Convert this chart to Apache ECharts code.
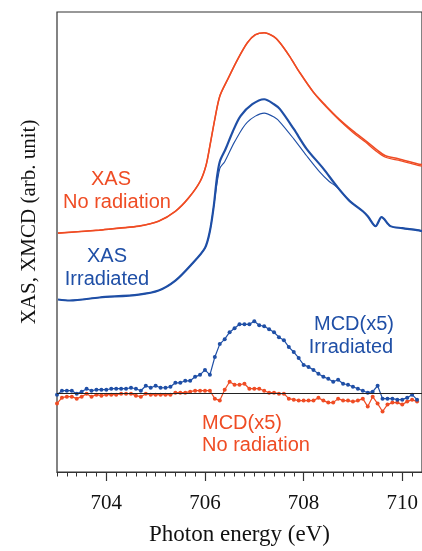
<!DOCTYPE html>
<html>
<head>
<meta charset="utf-8">
<script src="https://cdn.jsdelivr.net/npm/echarts@6/dist/echarts.min.js"></script>
<style>
  html, body { margin: 0; padding: 0; background: #fff; }
  #chart { width: 422px; height: 551px; }
</style>
</head>
<body>
<div id="chart"></div>
<script>
// x tick labels (eV)
const majorTicks = [704, 706, 708, 710]

// XAS spectra, [energy (eV), intensity (arb.)]
const xasNoRad = [
    [703.02, 16.2], [703.86, 16.5], [704.26, 16.7], [704.66, 16.9], [705.06, 17.4], [705.40, 18.4],
    [705.66, 19.7], [705.90, 21.4], [706.02, 23.0], [706.10, 25.0], [706.20, 27.7], [706.30, 30.0],
    [706.46, 31.7], [706.66, 33.7], [706.86, 35.4], [707.02, 36.2], [707.20, 36.4], [707.40, 36.0],
    [707.52, 35.4], [707.72, 34.0], [707.92, 32.4], [708.20, 30.4], [708.46, 29.0], [708.72, 27.7],
    [709.00, 26.5], [709.26, 25.5], [709.46, 24.7], [709.66, 24.0], [709.92, 23.7], [710.30, 23.2], [710.40, 23.1],
]
const xasNoRad2 = [
    [703.02, 16.2], [703.86, 16.5], [704.26, 16.7], [704.66, 16.9], [705.06, 17.4], [705.40, 18.4],
    [705.66, 19.7], [705.90, 21.4], [706.02, 23.0], [706.10, 25.0], [706.20, 27.7], [706.30, 30.0],
    [706.46, 31.7], [706.66, 33.7], [706.86, 35.4], [707.02, 36.2], [707.20, 36.4], [707.40, 36.0],
    [707.52, 35.4], [707.72, 34.0], [707.92, 32.4], [708.20, 30.4], [708.46, 28.9], [708.72, 27.6],
    [709.00, 26.35], [709.26, 25.35], [709.46, 24.5], [709.66, 23.85], [709.92, 23.55], [710.30, 23.05], [710.40, 22.95],
]
const xasIrr = [
    [703.02, 9.5], [703.26, 9.4], [703.86, 9.7], [704.66, 10.0], [705.06, 10.4], [705.40, 11.4],
    [705.72, 13.0], [706.00, 14.7], [706.10, 16.4], [706.18, 19.0], [706.24, 21.7], [706.30, 23.4],
    [706.42, 24.7], [706.56, 26.4], [706.72, 28.0], [706.96, 29.2], [707.20, 29.7], [707.40, 29.2],
    [707.52, 28.7], [707.80, 26.7], [708.06, 24.7], [708.40, 22.7], [708.66, 21.0], [708.92, 19.5],
    [709.20, 18.4], [709.30, 17.9], [709.46, 16.9], [709.58, 17.8], [709.76, 16.9], [710.00, 16.7],
    [710.30, 16.5], [710.40, 16.4],
]
const xasIrr2 = [
    [703.02, 9.5], [703.26, 9.4], [703.86, 9.7], [704.66, 10.0], [705.06, 10.4], [705.40, 11.4],
    [705.72, 13.0], [706.00, 14.7], [706.10, 16.4], [706.18, 19.0], [706.30, 22.7], [706.40, 23.4],
    [706.60, 25.4], [706.86, 27.4], [707.20, 28.3], [707.40, 27.9], [707.52, 27.4], [707.80, 25.7],
    [708.06, 24.0], [708.32, 22.4], [708.52, 21.4], [708.66, 20.9], [708.92, 19.5], [709.20, 18.4],
    [709.30, 17.9], [709.46, 16.9], [709.58, 17.8], [709.76, 16.9], [710.00, 16.7], [710.30, 16.5], [710.40, 16.4],
]

// MCD (x5) spectra, sampled every 0.1 eV
const mcdEnergy = [
    703.0, 703.1, 703.2, 703.3, 703.4, 703.5, 703.6, 703.7, 703.8, 703.9,
    704.0, 704.1, 704.2, 704.3, 704.4, 704.5, 704.6, 704.7, 704.8, 704.9,
    705.0, 705.1, 705.2, 705.3, 705.4, 705.5, 705.6, 705.7, 705.8, 705.9,
    706.0, 706.1, 706.2, 706.3, 706.4, 706.5, 706.6, 706.7, 706.8, 706.9,
    707.0, 707.1, 707.2, 707.3, 707.4, 707.5, 707.6, 707.7, 707.8, 707.9,
    708.0, 708.1, 708.2, 708.3, 708.4, 708.5, 708.6, 708.7, 708.8, 708.9,
    709.0, 709.1, 709.2, 709.3, 709.4, 709.5, 709.6, 709.7, 709.8, 709.9,
    710.0, 710.1, 710.2, 710.3,
]
const mcdIrr = [
    -0.1, 0.3, 0.3, 0.3, 0.0, 0.2, 0.5, 0.3, 0.4, 0.4,
    0.4, 0.5, 0.5, 0.5, 0.5, 0.6, 0.5, 0.3, 0.8, 0.6,
    0.8, 0.6, 0.6, 0.7, 1.1, 1.1, 1.3, 1.3, 1.7, 1.9,
    2.4, 1.9, 3.7, 5.0, 5.5, 6.2, 6.6, 7.0, 7.0, 7.0,
    7.3, 6.9, 6.8, 6.5, 6.2, 5.7, 5.4, 4.7, 4.2, 3.6,
    2.9, 2.7, 2.4, 2.0, 1.7, 1.5, 1.2, 1.4, 1.0, 0.9,
    0.7, 0.5, 0.3, 0.1, 0.2, 0.8, -0.5, -0.5, -0.5, -0.6,
    -0.6, -0.4, -0.1, -0.6,
]
const mcdNoRad = [
    -1.0, -0.4, -0.3, -0.3, -0.5, -0.3, 0.0, -0.3, -0.1, -0.2,
    -0.1, -0.1, -0.1, 0.0, 0.0, 0.0, -0.2, -0.3, 0.0, -0.1,
    -0.1, -0.1, -0.1, -0.1, 0.1, 0.1, 0.1, 0.2, 0.3, 0.3,
    0.3, 0.3, -0.5, -0.7, 0.4, 1.2, 0.9, 0.9, 1.0, 0.5,
    0.5, 0.5, 0.3, 0.1, 0.1, 0.0, 0.0, -0.5, -0.6, -0.7,
    -0.7, -0.7, -0.7, -0.4, -0.7, -0.9, -0.9, -0.5, -0.7, -0.7,
    -0.8, -0.7, -0.5, -1.3, -0.3, -1.0, -1.8, -1.1, -0.9, -0.9,
    -1.1, -0.8, -0.6, -0.8,
]

const red = "#ef4c24"
const blue = "#1f4fa6"
const sans = '"Liberation Sans", Arial, sans-serif'
const serif = '"Liberation Serif", "Times New Roman", serif'

function pairs(xs, ys) {
    return xs.map((x, i) => [x, ys[i]])
}

function note(text, x, y, color) {
    return {
        type: "text", x: x, y: y, silent: true,
        style: { text: text, fill: color, font: "20px " + sans, align: "center", verticalAlign: "middle" },
    }
}

const chart = echarts.init(document.getElementById("chart"), null, { renderer: "canvas" })
chart.setOption({
    animation: false,
    grid: {
        show: true,
        left: 57,
        top: 12,
        width: 370,
        height: 464,
        borderColor: "#333",
        borderWidth: 1.2,
    },
    xAxis: [{
        type: "value",
        position: "bottom",
        min: 703,
        max: 710.4,
        name: "Photon energy (eV)",
        nameLocation: "middle",
        nameGap: 51,
        nameTextStyle: { fontFamily: serif, fontSize: 23, color: "#111" },
        axisLine: { show: true, onZero: false, lineStyle: { color: "#333", width: 1.2 } },
        axisTick: { customValues: majorTicks, length: 9, lineStyle: { color: "#333", width: 1.2 } },
        axisLabel: { customValues: majorTicks, margin: 21, fontFamily: serif, fontSize: 21, color: "#111" },
        splitLine: { show: false },
    }, {
        // minor ticks every 0.2 eV
        type: "value",
        position: "bottom",
        min: 703,
        max: 710.4,
        interval: 0.2,
        axisLine: { show: false, onZero: false },
        axisTick: { length: 4.5, lineStyle: { color: "#333", width: 1 } },
        axisLabel: { show: false },
        splitLine: { show: false },
    }],
    yAxis: {
        type: "value",
        min: -7.9,
        max: 38.5,
        axisLine: { show: false, onZero: false },
        axisTick: { show: false },
        axisLabel: { show: false },
        splitLine: { show: false },
    },
    graphic: [
        {
            type: "text", x: 29, y: 222, rotation: Math.PI / 2, silent: true,
            style: { text: "XAS, XMCD (arb. unit)", fill: "#111", font: "21px " + serif, align: "center", verticalAlign: "middle" },
        },
        note("XAS", 111, 179, red),
        note("No radiation", 117, 202, red),
        note("XAS", 107, 256, blue),
        note("Irradiated", 107, 279, blue),
        note("MCD(x5)", 354, 324, blue),
        note("Irradiated", 351, 347, blue),
        note("MCD(x5)", 242, 423, red),
        note("No radiation", 256, 445, red),
    ],
    series: [
        {
            name: "XAS no radiation", type: "line", data: xasNoRad, smooth: 0.3,
            showSymbol: false, lineStyle: { color: red, width: 1.6 },
        },
        {
            name: "XAS no radiation 2", type: "line", data: xasNoRad2, smooth: 0.3,
            showSymbol: false, lineStyle: { color: red, width: 1.3 },
        },
        {
            name: "XAS irradiated", type: "line", data: xasIrr, smooth: 0.3,
            showSymbol: false, lineStyle: { color: blue, width: 2.2 },
        },
        {
            name: "XAS irradiated 2", type: "line", data: xasIrr2, smooth: 0.3,
            showSymbol: false, lineStyle: { color: blue, width: 1.1 },
        },
        {
            name: "MCD no radiation", type: "line", data: pairs(mcdEnergy, mcdNoRad),
            symbol: "circle", symbolSize: 4, itemStyle: { color: red },
            lineStyle: { color: red, width: 1.2 },
            markLine: {
                silent: true, symbol: ["none", "none"], label: { show: false },
                lineStyle: { color: "#222", width: 1, type: "solid" },
                data: [{ yAxis: 0 }],
            },
        },
        {
            name: "MCD irradiated", type: "line", data: pairs(mcdEnergy, mcdIrr),
            symbol: "circle", symbolSize: 4, itemStyle: { color: blue },
            lineStyle: { color: blue, width: 1.2 },
        },
    ],
})
</script>
</body>
</html>
